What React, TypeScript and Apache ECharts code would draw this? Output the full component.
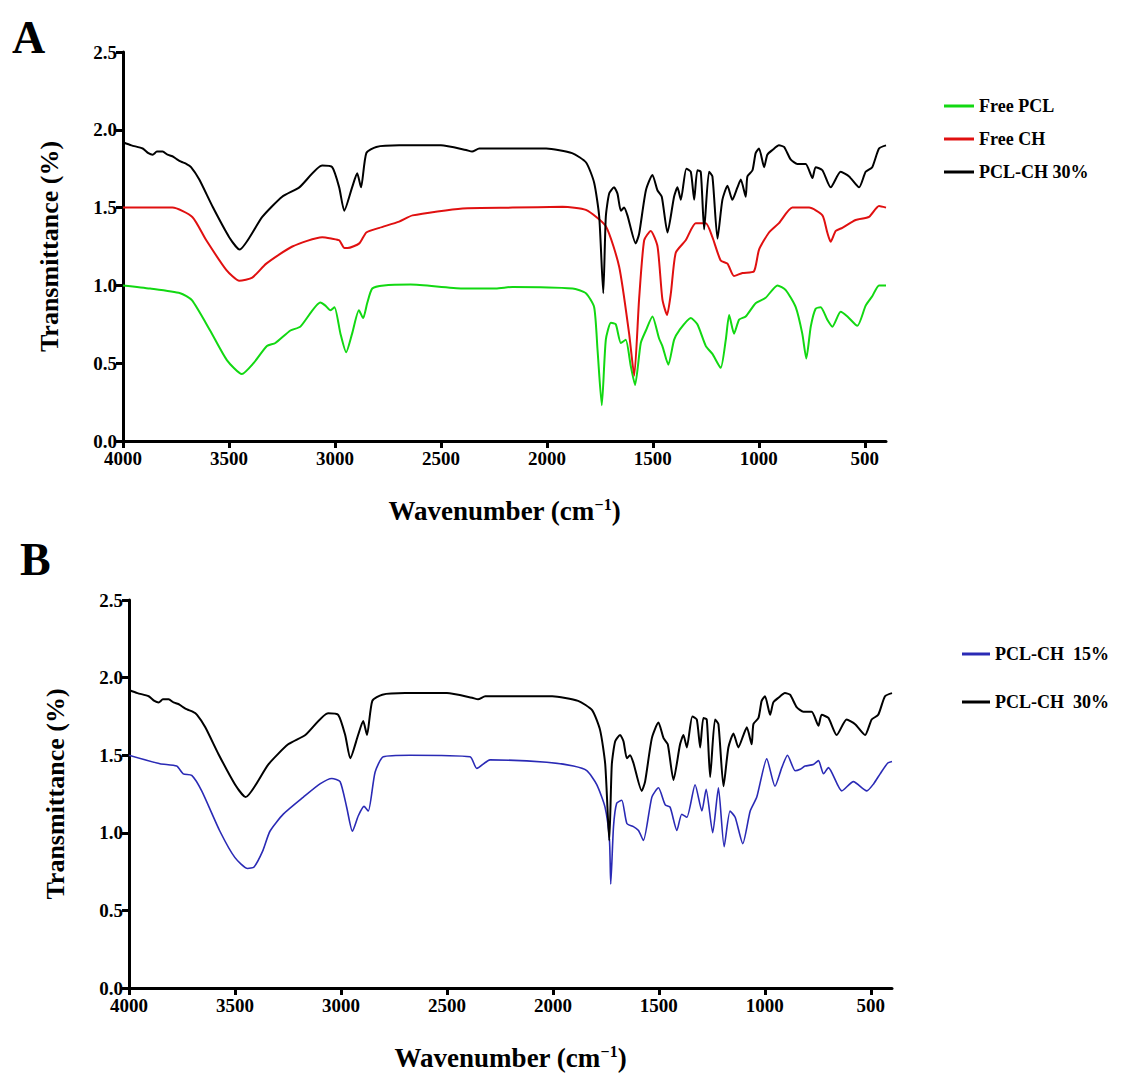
import React, { useEffect, useRef } from "react";
import * as echarts from "echarts";

// ---------- Panel A data ----------
const freePclWavenumber = [4000,3872,3730,3675,3589,3510,3439,3384,3321,3281,3210,3163,3069,3045,3021,3002,2974,2947,2919,2887,2867,2848,2824,2769,2643,2398,2241,2162,1879,1816,1777,1761,1741,1722,1698,1675,1651,1628,1604,1584,1557,1533,1502,1471,1455,1427,1400,1376,1321,1290,1250,1219,1180,1156,1140,1117,1093,1062,1015,968,912,873,826,795,776,755,732,708,677,653,614,582,535,496,465,433,400];
const freePclTransmittance = [1.00,0.98,0.95,0.905,0.71,0.52,0.43,0.50,0.61,0.63,0.71,0.735,0.89,0.87,0.84,0.86,0.69,0.57,0.69,0.84,0.79,0.885,0.98,1.00,1.005,0.98,0.98,0.99,0.98,0.95,0.86,0.585,0.23,0.65,0.76,0.75,0.63,0.65,0.48,0.36,0.63,0.71,0.80,0.66,0.61,0.49,0.65,0.71,0.79,0.75,0.61,0.56,0.47,0.65,0.81,0.69,0.78,0.80,0.885,0.92,1.00,0.97,0.86,0.69,0.53,0.735,0.85,0.86,0.78,0.735,0.83,0.80,0.74,0.87,0.93,1.00,1.00];

const freeChWavenumber = [4000,3767,3673,3607,3513,3451,3390,3324,3201,3060,3013,2980,2955,2940,2885,2852,2790,2697,2634,2398,2162,1926,1816,1722,1659,1612,1588,1565,1541,1510,1478,1455,1433,1415,1392,1345,1298,1250,1219,1180,1148,1117,1077,1023,999,952,905,842,763,700,677,661,637,606,543,480,433,400];
const freeChTransmittance = [1.50,1.50,1.44,1.29,1.10,1.03,1.05,1.14,1.25,1.31,1.30,1.29,1.24,1.24,1.27,1.34,1.37,1.41,1.45,1.495,1.50,1.505,1.485,1.38,1.12,0.69,0.42,0.91,1.29,1.35,1.25,0.91,0.81,0.95,1.21,1.29,1.40,1.40,1.31,1.16,1.14,1.06,1.08,1.09,1.23,1.34,1.40,1.50,1.50,1.45,1.34,1.28,1.35,1.37,1.42,1.44,1.51,1.50];

const pclCh30Wavenumber = [4000,3960,3907,3880,3860,3840,3813,3790,3767,3745,3726,3700,3679,3640,3577,3499,3450,3343,3249,3168,3060,3013,2980,2956,2919,2895,2877,2852,2805,2697,2500,2381,2353,2319,2003,1881,1815,1777,1753,1734,1722,1706,1683,1667,1651,1636,1620,1581,1565,1533,1502,1478,1458,1431,1400,1384,1368,1342,1321,1305,1290,1274,1258,1235,1219,1195,1172,1148,1125,1101,1085,1062,1054,1030,1015,999,975,960,936,905,881,850,818,779,747,732,700,661,614,574,527,496,465,433,400];
const pclCh30Transmittance = [1.92,1.90,1.88,1.85,1.84,1.86,1.86,1.84,1.83,1.81,1.795,1.78,1.76,1.68,1.505,1.31,1.23,1.44,1.57,1.63,1.77,1.76,1.63,1.48,1.63,1.72,1.63,1.85,1.89,1.90,1.90,1.87,1.86,1.88,1.88,1.85,1.79,1.66,1.44,0.95,1.44,1.59,1.63,1.59,1.48,1.50,1.45,1.27,1.33,1.61,1.71,1.61,1.57,1.34,1.57,1.63,1.55,1.75,1.73,1.55,1.74,1.73,1.36,1.73,1.70,1.30,1.55,1.64,1.55,1.63,1.68,1.57,1.70,1.74,1.85,1.88,1.76,1.84,1.87,1.90,1.89,1.81,1.78,1.78,1.69,1.76,1.74,1.63,1.73,1.70,1.63,1.73,1.76,1.88,1.90];

// ---------- Panel B data ----------
const pclCh15Wavenumber = [4000,3854,3775,3744,3704,3657,3571,3500,3440,3410,3370,3335,3272,3177,3099,3043,3004,2973,2946,2918,2891,2871,2839,2800,2674,2391,2359,2296,2029,1903,1840,1793,1754,1733,1727,1714,1699,1675,1651,1620,1596,1573,1533,1502,1470,1447,1415,1392,1368,1329,1297,1277,1246,1219,1192,1164,1140,1104,1069,1038,991,952,920,893,857,833,810,771,747,723,700,637,582,519,487,456,420,400];
const pclCh15Transmittance = [1.50,1.445,1.43,1.38,1.37,1.27,1.01,0.84,0.77,0.78,0.88,1.01,1.12,1.23,1.315,1.35,1.33,1.165,1.01,1.11,1.17,1.14,1.39,1.49,1.50,1.49,1.415,1.47,1.455,1.43,1.40,1.31,1.165,0.95,0.67,1.04,1.19,1.21,1.06,1.04,1.015,0.95,1.23,1.29,1.18,1.165,1.015,1.12,1.10,1.31,1.14,1.28,1.00,1.29,0.91,1.14,1.10,0.93,1.14,1.23,1.476,1.30,1.42,1.50,1.40,1.41,1.43,1.44,1.465,1.38,1.42,1.27,1.33,1.27,1.315,1.38,1.45,1.46];

const xTickValues = [500, 1000, 1500, 2000, 2500, 3000, 3500, 4000];

const SERIF = '"Liberation Serif", "Times New Roman", serif';

const zip = (xs: number[], ys: number[]) => xs.map((x, i) => [x, ys[i]]);

function makeXAxis(gridIndex: number) {
  return {
    gridIndex,
    type: "value",
    inverse: true,
    min: 400,
    max: 4000,
    name: "Wavenumber (cm{sup|−1})",
    nameLocation: "middle",
    nameGap: 55,
    nameTextStyle: {
      color: "#000",
      fontFamily: SERIF,
      fontWeight: "bold",
      fontSize: 27,
      rich: {
        sup: {
          color: "#000",
          fontFamily: SERIF,
          fontWeight: "bold",
          fontSize: 16,
          verticalAlign: "top",
          padding: [0, 0, 14, 0],
        },
      },
    },
    axisLine: { show: true, onZero: false, lineStyle: { color: "#000", width: 3 } },
    axisTick: { show: true, inside: false, length: 7, customValues: xTickValues, lineStyle: { color: "#000", width: 3 } },
    axisLabel: {
      customValues: xTickValues,
      color: "#000",
      fontFamily: SERIF,
      fontWeight: "bold",
      fontSize: 19,
      margin: 8,
      formatter: (v: number) => String(v),
    },
    splitLine: { show: false },
  };
}

function makeYAxis(gridIndex: number) {
  return {
    gridIndex,
    type: "value",
    min: 0,
    max: 2.5,
    interval: 0.5,
    name: "Transmittance (%)",
    nameLocation: "middle",
    nameGap: 61,
    nameRotate: 90,
    nameTextStyle: {
      color: "#000",
      fontFamily: SERIF,
      fontWeight: "bold",
      fontSize: 26,
    },
    axisLine: { show: true, onZero: false, lineStyle: { color: "#000", width: 3 } },
    axisTick: { show: true, inside: false, length: 7, lineStyle: { color: "#000", width: 3 } },
    axisLabel: {
      color: "#000",
      fontFamily: SERIF,
      fontWeight: "bold",
      fontSize: 19,
      margin: 6,
      formatter: (v: number) => v.toFixed(1),
    },
    splitLine: { show: false },
  };
}

function lineSeries(name: string, data: number[][], color: string, idx: number, width: number) {
  return {
    name,
    type: "line",
    xAxisIndex: idx,
    yAxisIndex: idx,
    data,
    showSymbol: false,
    symbol: "none",
    smooth: 0.2,
    lineStyle: { color, width },
    itemStyle: { color },
    emphasis: { disabled: true },
  };
}

export default function App() {
  const ref = useRef<HTMLDivElement>(null);

  useEffect(() => {
    if (!ref.current) return;
    const chart = echarts.init(ref.current, undefined, { renderer: "svg" });
    const legendText = { color: "#000", fontFamily: SERIF, fontWeight: "bold", fontSize: 18 };
    chart.setOption({
      animation: false,
      backgroundColor: "#fff",
      grid: [
        { left: 123, top: 52, width: 763, height: 389 },
        { left: 129, top: 600, width: 763, height: 388 },
      ],
      xAxis: [makeXAxis(0), makeXAxis(1)],
      yAxis: [makeYAxis(0), makeYAxis(1)],
      legend: [
        {
          data: ["Free PCL", "Free CH", "PCL-CH 30%"],
          orient: "vertical",
          left: 944,
          top: 97,
          itemWidth: 30,
          itemHeight: 3,
          itemGap: 15,
          icon: "rect",
          textStyle: legendText,
          padding: 0,
        },
        {
          data: ["PCL-CH  15%", "PCL-CH  30%"],
          orient: "vertical",
          left: 962,
          top: 645,
          itemWidth: 28,
          itemHeight: 3,
          itemGap: 30,
          icon: "rect",
          textStyle: legendText,
          padding: 0,
        },
      ],
      graphic: [
        { type: "text", left: 12, top: 14, style: { text: "A", font: `bold 46px ${SERIF}`, fill: "#000" } },
        { type: "text", left: 20, top: 536, style: { text: "B", font: `bold 46px ${SERIF}`, fill: "#000" } },
      ],
      series: [
        lineSeries("Free PCL", zip(freePclWavenumber, freePclTransmittance), "#12d812", 0, 2),
        lineSeries("Free CH", zip(freeChWavenumber, freeChTransmittance), "#e01010", 0, 2),
        lineSeries("PCL-CH 30%", zip(pclCh30Wavenumber, pclCh30Transmittance), "#000000", 0, 2),
        lineSeries("PCL-CH  15%", zip(pclCh15Wavenumber, pclCh15Transmittance), "#2a2ab5", 1, 1.6),
        lineSeries("PCL-CH  30%", zip(pclCh30Wavenumber, pclCh30Transmittance), "#000000", 1, 2),
      ],
    });
    return () => chart.dispose();
  }, []);

  return (
    <div
      ref={ref}
      style={{ position: "absolute", left: 0, top: 0, width: 1126, height: 1075, background: "#fff" }}
    />
  );
}
